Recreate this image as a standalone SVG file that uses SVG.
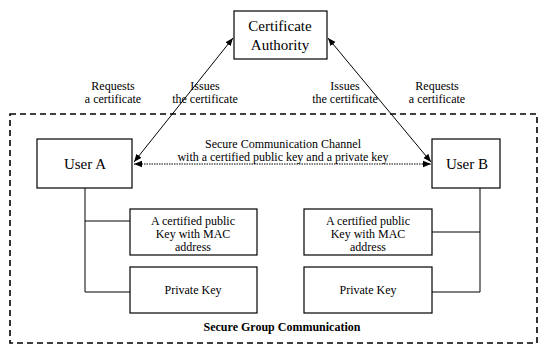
<svg xmlns="http://www.w3.org/2000/svg" width="547" height="349" viewBox="0 0 547 349">
<defs>
<style>
text{fill:#000;text-anchor:middle}
.big{font-size:15px}
.sm{font-size:12px}
.box{fill:#fff;stroke:#000;stroke-width:1.2}
.ln{fill:none;stroke:#000;stroke-width:1}
.dot{fill:none;stroke:#000;stroke-width:1.2;stroke-dasharray:1.5 1}
.border{fill:none;stroke:#000;stroke-width:1.6;stroke-dasharray:6 4}
.bold{font-size:12px;font-weight:bold}
</style>
<marker id="ah" viewBox="0 0 10 10" refX="10" refY="5" markerWidth="8" markerHeight="8" markerUnits="userSpaceOnUse" orient="auto-start-reverse">
<path d="M0,1 L10,5 L0,9 z" fill="#000"/>
</marker>
</defs>
<rect width="547" height="349" fill="#fff"/>
<g font-family="Liberation Serif, serif">
<g id="group-border">
<rect class="border" x="10" y="114" width="527" height="229"/>
<text class="bold" x="282" y="331">Secure Group Communication</text>
</g>
<g id="connectors">
<line class="ln" x1="134" y1="162" x2="233" y2="38" marker-start="url(#ah)" marker-end="url(#ah)"/>
<line class="ln" x1="328" y1="38" x2="431" y2="162" marker-start="url(#ah)" marker-end="url(#ah)"/>
<line class="dot" x1="134" y1="164" x2="431" y2="164" marker-start="url(#ah)" marker-end="url(#ah)"/>
<polyline class="ln" points="85,188 85,292 130,292"/>
<line class="ln" x1="85" y1="221" x2="130" y2="221"/>
<polyline class="ln" points="480,188 480,292 432,292"/>
<line class="ln" x1="480" y1="232" x2="432" y2="232"/>
</g>
<g id="labels">
<text class="sm" x="113" y="90">Requests</text>
<text class="sm" x="113" y="103">a certificate</text>
<text class="sm" x="205" y="90">Issues</text>
<text class="sm" x="205" y="103">the certificate</text>
<text class="sm" x="345" y="90">Issues</text>
<text class="sm" x="345" y="103">the certificate</text>
<text class="sm" x="437" y="90">Requests</text>
<text class="sm" x="437" y="103">a certificate</text>
<text class="sm" x="283" y="148">Secure Communication Channel</text>
<text class="sm" x="283" y="161">with a certified public key and a private key</text>
</g>
<g id="ca">
<rect class="box" x="234" y="11" width="93" height="48"/>
<text class="big" x="280" y="31">Certificate</text>
<text class="big" x="280" y="50">Authority</text>
</g>
<g id="user-a">
<rect class="box" x="37" y="139" width="95" height="49"/>
<text class="big" x="85" y="169">User A</text>
</g>
<g id="user-b">
<rect class="box" x="432" y="139" width="68" height="49"/>
<text class="big" x="467" y="169">User B</text>
</g>
<g id="pubkey-a">
<rect class="box" x="130" y="209" width="127" height="46"/>
<text class="sm" x="193" y="225">A certified public</text>
<text class="sm" x="193" y="238">Key with MAC</text>
<text class="sm" x="193" y="251">address</text>
</g>
<g id="privkey-a">
<rect class="box" x="130" y="267" width="127" height="46"/>
<text class="sm" x="193" y="294">Private Key</text>
</g>
<g id="pubkey-b">
<rect class="box" x="304" y="209" width="128" height="46"/>
<text class="sm" x="368" y="225">A certified public</text>
<text class="sm" x="368" y="238">Key with MAC</text>
<text class="sm" x="368" y="251">address</text>
</g>
<g id="privkey-b">
<rect class="box" x="304" y="267" width="128" height="46"/>
<text class="sm" x="368" y="294">Private Key</text>
</g>
</g>
</svg>
